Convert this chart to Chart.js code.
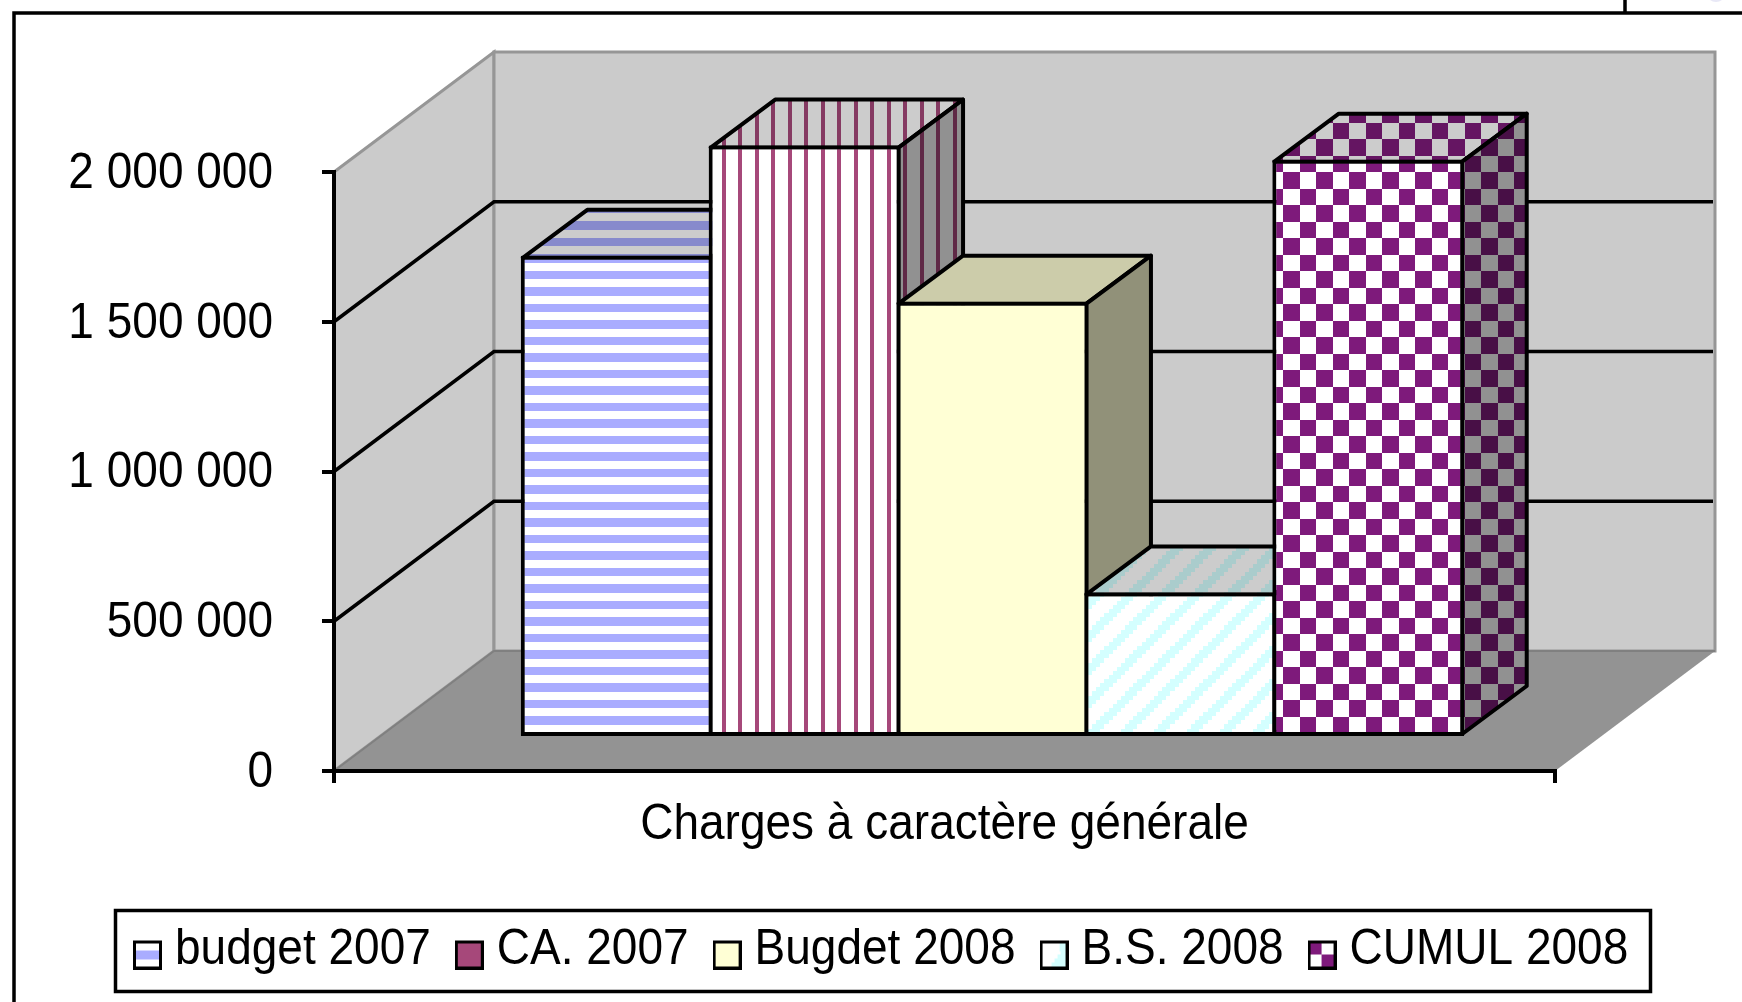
<!DOCTYPE html>
<html>
<head>
<meta charset="utf-8">
<style>html,body{margin:0;padding:0;background:#fff}canvas{display:block}</style>
<script src="https://cdn.jsdelivr.net/npm/chart.js@4/dist/chart.umd.js"></script>
</head>
<body>
<canvas id="c" width="1742" height="1002" style="width:1742px;height:1002px"></canvas>
<script>
const categories = ['Charges à caractère générale'];
const seriesNames = ['budget 2007', 'CA. 2007', 'Bugdet 2008', 'B.S. 2008', 'CUMUL 2008'];
const budget2007 = [1610000];
const ca2007 = [1978000];
const budget2008 = [1457000];
const bs2008 = [486000];
const cumul2008 = [1931000];
const seriesValues = [budget2007, ca2007, budget2008, bs2008, cumul2008];
const seriesColors = [[169,172,255],[166,72,122],[255,255,213],[212,255,255],[126,26,123]];
const seriesKinds = ['hstripe','vstripe','solid','diag','check'];
const yTicksMax = 2000000, yStep = 500000;

const WALL = {dx:160, dy:120};        // wall depth
const BAR_OFFSET = {dx:48, dy:-33};   // bars stand inside the floor
const BAR_DEPTH = {dx:64.5, dy:48};
const FONT = '"Liberation Sans",Arial,sans-serif';
const TEXT_SQUEEZE = 0.92;            // the reference's text is horizontally condensed

function css(c, s){ return 'rgb(' + c.map(v => Math.round(v*s)).join(',') + ')'; }
function tile(kind, color, shade){
  const t = document.createElement('canvas'); t.width = 33; t.height = 33;
  const g = t.getContext('2d');
  g.fillStyle = css([255,255,255], shade); g.fillRect(0,0,33,33);
  g.fillStyle = css(color, shade);
  if (kind === 'solid') g.fillRect(0,0,33,33);
  if (kind === 'hstripe') { g.fillRect(0,7,33,8); g.fillRect(0,23,33,9); }
  if (kind === 'vstripe') { g.fillRect(14,0,4,33); g.fillRect(30,0,3,33); g.fillRect(0,0,1,33); }
  if (kind === 'check') {
    for (let y=0;y<33;y++) for (let x=0;x<33;x++) {
      const a = Math.floor(((x-14+33)%33)/16.5), b = Math.floor(((y-7+33)%33)/16.5);
      if (a === b) g.fillRect(x,y,1,1);
    }
  }
  if (kind === 'diag') {
    for (let y=0;y<33;y++) for (let x=0;x<33;x++) {
      const i = Math.floor(x/4.125), j = Math.floor((y+2)/4.125);
      if ((i+j)%8 >= 5) g.fillRect(x,y,1,1);
    }
  }
  return t;
}
const ctx = document.getElementById('c').getContext('2d');
const patt = (i, s) => ctx.createPattern(tile(seriesKinds[i], seriesColors[i], s), 'repeat');

// horizontally condensed text, as in the reference
const rawFill = ctx.fillText.bind(ctx), rawMeasure = ctx.measureText.bind(ctx);
ctx.fillText = function(text, x, y, w){
  ctx.save(); ctx.translate(x, y); ctx.scale(TEXT_SQUEEZE, 1);
  if (w === undefined) rawFill(text, 0, 0); else rawFill(text, 0, 0, w / TEXT_SQUEEZE);
  ctx.restore();
};
ctx.measureText = function(text){
  const m = rawMeasure(text);
  return {width:m.width*TEXT_SQUEEZE, actualBoundingBoxAscent:m.actualBoundingBoxAscent, actualBoundingBoxDescent:m.actualBoundingBoxDescent};
};

function swatch(i){
  const t = document.createElement('canvas'); t.width = 29; t.height = 39;
  const g = t.getContext('2d');
  g.fillStyle = '#000'; g.fillRect(0,10,29,29);
  g.fillStyle = '#fff'; g.fillRect(3,13,23,23);
  g.fillStyle = css(seriesColors[i],1);
  if (i === 0) g.fillRect(3,20,23,9);
  if (i === 1 || i === 2) g.fillRect(3,13,23,23);
  if (i === 3) { for (let k=0;k<5;k++) g.fillRect(12+k*3,32-k*4,14-k*3,4); g.fillRect(20,13,6,8); }
  if (i === 4) { g.fillRect(3,13,11,11); g.fillRect(14,24,12,12); }
  return t;
}
const swatches = seriesNames.map((_, i) => swatch(i));

const scene = {
  id:'scene',
  beforeLayout(chart){
    // the legend spans the page, wider than the plot's own padded box
    const l = chart.legend;
    if (!l._wide) { const u = l.update; l.update = function(w,h,m){ return u.call(l, 1742, h, m); }; l._wide = true; }
  },
  afterLayout(chart){
    const l = chart.legend;
    l.left = 109; l.right = 1900; l.top = 889;
  },
  beforeDraw(chart){
    const c = chart.ctx, {left:L,right:R,top:T,bottom:B} = chart.chartArea, y = chart.scales.y;
    c.save();
    // outer frame
    c.strokeStyle = '#000'; c.lineWidth = 3.5;
    c.beginPath(); c.moveTo(14,1002); c.lineTo(14,13); c.lineTo(1742,13); c.moveTo(1625,0); c.lineTo(1625,13); c.stroke();
    c.fillStyle = '#e8e8f6'; c.beginPath(); c.arc(1716,-8,10,0,Math.PI*2); c.fill();
    // side wall
    c.fillStyle = '#cbcbcb'; c.strokeStyle = '#969696'; c.lineWidth = 3;
    c.beginPath(); c.moveTo(L,T); c.lineTo(L+WALL.dx,T-WALL.dy); c.lineTo(L+WALL.dx,B-WALL.dy); c.lineTo(L,B); c.closePath(); c.fill(); c.stroke();
    // back wall
    c.beginPath(); c.rect(L+WALL.dx,T-WALL.dy,R-L,B-T); c.fill(); c.stroke();
    // floor
    c.fillStyle = '#939393'; c.strokeStyle = '#808080'; c.lineWidth = 2;
    c.beginPath(); c.moveTo(L,B); c.lineTo(R,B); c.lineTo(R+WALL.dx,B-WALL.dy); c.lineTo(L+WALL.dx,B-WALL.dy); c.closePath(); c.fill();
    c.beginPath(); c.moveTo(L,B); c.lineTo(L+WALL.dx,B-WALL.dy); c.lineTo(R+WALL.dx,B-WALL.dy); c.stroke();
    // gridlines on the two walls
    c.strokeStyle = '#000'; c.lineWidth = 3.5;
    y.ticks.forEach(t => {
      if (t.value <= 0 || t.value >= yTicksMax) return;
      const p = y.getPixelForValue(t.value);
      c.beginPath(); c.moveTo(L,p); c.lineTo(L+WALL.dx,p-WALL.dy); c.lineTo(R+WALL.dx-2,p-WALL.dy); c.stroke();
    });
    c.restore();
  },
  // bars are drawn left to right so each one overlaps the depth face of the previous one
  beforeDatasetsDraw(chart){
    const c = chart.ctx, d = BAR_DEPTH;
    seriesNames.forEach((_, i) => {
      const meta = chart.getDatasetMeta(i);
      const b = meta.data[0].getProps(['x','y','base','width'], true);
      const x0 = b.x - b.width/2 + 2, x1 = b.x + b.width/2 - 2, top = b.y + 2, base = b.base - 2;
      c.save();
      c.translate(BAR_OFFSET.dx, BAR_OFFSET.dy);
      c.strokeStyle = '#000'; c.lineWidth = 4; c.lineJoin = 'round';
      c.fillStyle = patt(i, 0.8);
      c.beginPath(); c.moveTo(x0,top); c.lineTo(x1,top); c.lineTo(x1+d.dx,top-d.dy); c.lineTo(x0+d.dx,top-d.dy); c.closePath(); c.fill(); c.stroke();
      c.fillStyle = patt(i, 0.57);
      c.beginPath(); c.moveTo(x1,top); c.lineTo(x1+d.dx,top-d.dy); c.lineTo(x1+d.dx,base-d.dy); c.lineTo(x1,base); c.closePath(); c.fill(); c.stroke();
      meta.controller.draw();
      c.restore();
    });
    return false;
  },
  afterDraw(chart){
    const c = chart.ctx;
    c.save(); c.strokeStyle='#000'; c.lineWidth=3.5; c.strokeRect(115.5,910.5,1535,81); c.restore();
  }
};

new Chart(ctx, {
  type:'bar',
  plugins:[scene],
  data:{
    labels:categories,
    datasets:seriesNames.map((name,i) => ({
      label:name,
      data:seriesValues[i],
      backgroundColor:patt(i,1),
      borderColor:'#000',
      borderWidth:4,
      borderSkipped:false,
      categoryPercentage:0.7694,
      barPercentage:1.0213
    }))
  },
  options:{
    responsive:false,
    animation:false,
    events:[],
    font:{family:FONT,size:50},
    layout:{padding:{top:172,right:187,left:0,bottom:0}},
    plugins:{
      tooltip:{enabled:false},
      title:{display:false},
      legend:{
        display:true,
        position:'bottom',
        align:'start',
        labels:{
          usePointStyle:true,
          boxWidth:5,
          padding:36,
          color:'#000',
          font:{family:FONT,size:50},
          generateLabels(chart){
            return Chart.defaults.plugins.legend.labels.generateLabels(chart)
              .map((it,i) => ({...it, pointStyle:swatches[i], lineWidth:0}));
          }
        }
      }
    },
    scales:{
      x:{
        afterFit(s){ s.height = 1002 - 771 - s.chart.legend.height; },
        grid:{drawOnChartArea:false,color:'#000',tickColor:'#000',tickWidth:4,tickLength:12,lineWidth:4},
        border:{display:true,color:'#000',width:4},
        ticks:{color:'#000',font:{family:FONT,size:50},padding:12,maxRotation:0,autoSkip:false}
      },
      y:{
        min:0,max:yTicksMax,
        afterFit(s){ s.width = 334; },
        grid:{drawOnChartArea:false,color:'#000',tickColor:'#000',tickWidth:4,tickLength:12,lineWidth:4},
        border:{display:true,color:'#000',width:4},
        ticks:{
          color:'#000',stepSize:yStep,padding:49,labelOffset:2,
          font:{family:FONT,size:50},
          callback:v => String(v).replace(/\B(?=(\d{3})+$)/g,' ')
        }
      }
    }
  }
});
</script>
</body>
</html>
